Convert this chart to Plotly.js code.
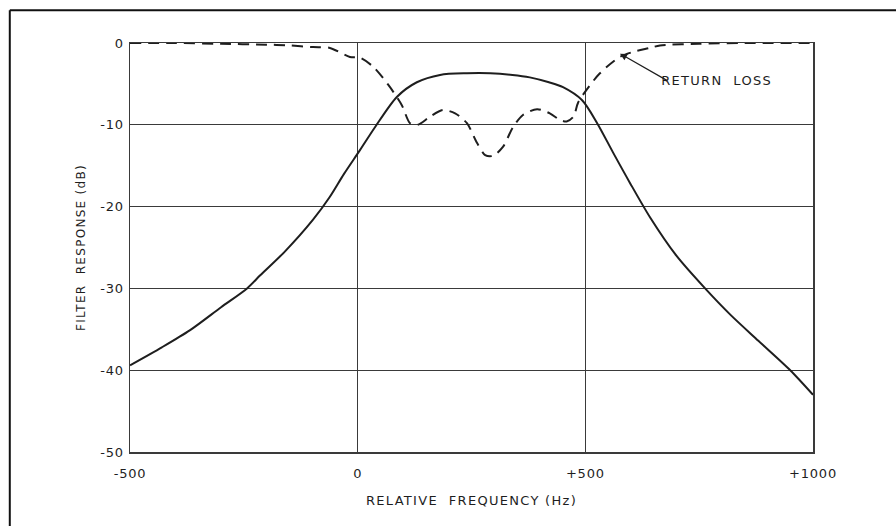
<!DOCTYPE html>
<html>
<head>
<meta charset="utf-8">
<script src="https://cdn.plot.ly/plotly-3.0.1.min.js"></script>
<style>
  html, body { margin: 0; padding: 0; background: #ffffff; }
  #chart { width: 896px; height: 526px; }
  #chart .xtitle, #chart .ytitle, #chart .annotation-text { letter-spacing: 1.3px; }
  #chart .xtick text, #chart .ytick text { letter-spacing: 0.8px; }
</style>
</head>
<body>
<div id="chart"></div>
<script>
// Filter response (solid) – relative frequency (Hz) vs dB
const responseFreq = [-500, -430, -368, -300, -243, -214, -160, -98, -61, -30, 5, 38, 86, 130, 181, 240, 291, 340, 378, 420, 451, 493, 526, 561, 598, 642, 700, 763, 820, 880, 950, 1000];
const responseDb   = [-39.4, -37.2, -35.1, -32.3, -30.0, -28.4, -25.5, -21.6, -18.8, -16.0, -13.1, -10.3, -6.6, -4.8, -3.9, -3.7, -3.7, -3.9, -4.2, -4.8, -5.4, -7.0, -9.8, -13.4, -17.1, -21.3, -26.0, -30.0, -33.3, -36.4, -40.0, -43.0];

// Return loss (dashed)
const lossFreq = [-500, -400, -300, -200, -150, -98, -61, -17, 5, 34, 67, 97, 115, 132, 159, 187, 214, 240, 262, 280, 297, 319, 341, 363, 394, 422, 444, 459, 474, 484, 503, 532, 576, 604, 642, 664, 750, 850, 1000];
const lossDb   = [0, 0, -0.1, -0.2, -0.3, -0.5, -0.6, -1.7, -1.8, -2.9, -5.1, -7.6, -9.8, -10.0, -9.0, -8.2, -8.6, -9.8, -12.2, -13.7, -13.8, -12.7, -10.3, -8.8, -8.1, -8.6, -9.4, -9.6, -9.0, -7.3, -5.7, -3.7, -1.7, -1.1, -0.6, -0.3, -0.1, 0, 0];

const xTickVals = [-500, 0, 500, 1000];
const xTickText = ['-500', '0', '+500', '+1000'];
const yTickVals = [0, -10, -20, -30, -40, -50];
const yTickText = ['0', '-10', '-20', '-30', '-40', '-50'];

const ink = '#1e1e1e';
const gridInk = '#3a3a3a';
const fontFam = 'DejaVu Sans, Liberation Sans, sans-serif';

const traces = [
  {
    x: responseFreq, y: responseDb, type: 'scatter', mode: 'lines',
    line: { color: ink, width: 2, shape: 'spline', smoothing: 0.8 },
    name: 'Filter response', hoverinfo: 'skip'
  },
  {
    x: lossFreq, y: lossDb, type: 'scatter', mode: 'lines',
    line: { color: ink, width: 2, dash: '11px,7px', shape: 'spline', smoothing: 0.8 },
    name: 'Return loss', hoverinfo: 'skip'
  }
];

const layout = {
  width: 896, height: 526,
  margin: { l: 130, r: 83, t: 43, b: 74 },
  paper_bgcolor: '#ffffff', plot_bgcolor: '#ffffff',
  showlegend: false,
  font: { family: fontFam, color: ink, size: 13 },
  xaxis: {
    range: [-500, 1000], tickvals: xTickVals, ticktext: xTickText,
    showgrid: true, gridcolor: gridInk, gridwidth: 1,
    showline: true, linecolor: gridInk, linewidth: 1.5, mirror: true,
    zeroline: false, ticks: '', ticklabelstandoff: 9, tickfont: { size: 13, color: ink },
    title: { text: 'RELATIVE\u00a0\u00a0FREQUENCY\u00a0(Hz)', font: { size: 13, color: ink }, standoff: 16 }
  },
  yaxis: {
    range: [-50, 0], tickvals: yTickVals, ticktext: yTickText,
    showgrid: true, gridcolor: gridInk, gridwidth: 1,
    showline: true, linecolor: gridInk, linewidth: 1.5, mirror: true,
    zeroline: false, ticks: '', ticklabelstandoff: 2, tickfont: { size: 13, color: ink },
    title: { text: 'FILTER\u00a0\u00a0RESPONSE\u00a0(dB)', font: { size: 12, color: ink }, standoff: 14 }
  },
  annotations: [
    {
      x: 576, y: -1.3, xref: 'x', yref: 'y',
      ax: 680, ay: -4.6, axref: 'x', ayref: 'y',
      text: 'RETURN\u00a0\u00a0LOSS', xanchor: 'left', yanchor: 'middle',
      showarrow: true, arrowhead: 2, arrowsize: 1.2, arrowwidth: 1.2, arrowcolor: ink,
      font: { size: 13, color: ink }
    }
  ],
  shapes: [
    { type: 'line', xref: 'paper', yref: 'paper', x0: -0.176, x1: 1.2, y0: 1.08, y1: 1.08, line: { color: '#111', width: 2 } },
    { type: 'line', xref: 'paper', yref: 'paper', x0: -0.176, x1: -0.176, y0: 1.08, y1: -0.2, line: { color: '#111', width: 2 } }
  ]
};

Plotly.newPlot('chart', traces, layout, { staticPlot: true, displayModeBar: false });
</script>
</body>
</html>
